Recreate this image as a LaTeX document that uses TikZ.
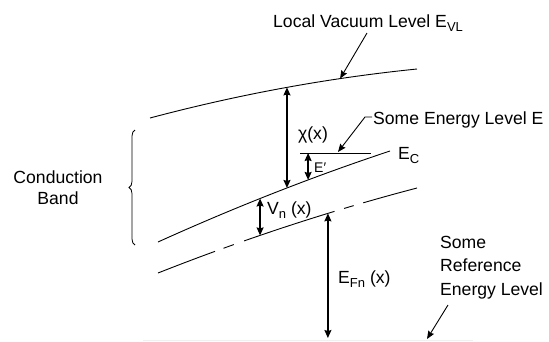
\documentclass[tikz,border=0pt]{standalone}
\usepackage{fontspec}
\setmainfont{Liberation Sans}
\usetikzlibrary{arrows.meta,decorations.pathreplacing}
\tikzset{
  curve/.style={line width=0.9pt},
  dbl/.style={line width=1.3pt,{Stealth[length=8pt,width=7pt,inset=1pt]}-{Stealth[length=8pt,width=7pt,inset=1pt]}},
  lead/.style={line width=0.9pt,-{Stealth[length=8pt,width=6.5pt,inset=1pt]}},
  lbl/.style={inner sep=0pt,font=\fontsize{17.6}{20}\selectfont}
}
\newcommand{\subtxt}[1]{\raisebox{-4pt}{\fontsize{13}{13}\selectfont #1}}
\begin{document}
\begin{tikzpicture}[x=1pt,y=-1pt]
\useasboundingbox (0,0) rectangle (549,341);
% vacuum level
\draw[curve] (150,118) .. controls (239,94.33) and (328,78) .. (417,69)
  coordinate[pos=0.513] (chiTop) coordinate[pos=0.712] (vacTip);
% conduction band edge
\draw[curve] (158,242) .. controls (235.33,207) and (312.67,176.67) .. (390,151)
  coordinate[pos=0.556] (chiBot) coordinate[pos=0.647] (epBot) coordinate[pos=0.44] (vnTop);
% Fermi level (broken)
\draw[curve,dash pattern=on 61pt off 9pt on 11pt off 11pt on 95pt off 10pt on 10pt off 10pt on 100pt]
  (158,273) .. controls (244.33,238.93) and (330.67,210.6) .. (417,188)
  coordinate[pos=0.394] (vnBot) coordinate[pos=0.656] (efTop);
% energy level E
\coordinate (elA) at (300,153);
\coordinate (elB) at (371,153);
\draw[curve] (elA) -- (elB);
\coordinate (epTop) at (epBot |- elA);
% reference level (bottom edge)
\coordinate (refA) at (143,340.5);
\coordinate (refB) at (473,340.5);
\draw[gray!12,line width=0.6pt] (refA) -- (refB);
\coordinate (efBot) at (efTop |- 0,338);
% double arrows
\draw[dbl] (chiTop) -- (chiTop |- chiBot);
\draw[dbl] (epTop) -- (epBot);
\draw[dbl] (vnTop) -- (vnTop |- vnBot);
\draw[dbl] (efTop) -- (efBot);
% brace
\coordinate (brB) at (135,245);
\coordinate (brT) at (135,130);
\draw[line width=0.8pt,decorate,decoration={brace,amplitude=6pt}] (brB) -- (brT);
% labels
\node[lbl,anchor=base west] (vacL) at (273,27) {Local Vacuum Level E\subtxt{VL}};
\node[lbl,anchor=base west] (eL) at (373,124) {Some Energy Level E};
\node[lbl,anchor=center] (chiL) at (313,135) {χ(x)};
\node[lbl,anchor=base west] (ecL) at (398,159.5) {E\subtxt{C}};
\node[inner sep=0pt,font=\fontsize{14}{16}\selectfont,anchor=base west] (epL) at (314,172) {E′};
\node[lbl,anchor=base west] (vnL) at (267,214) {V\subtxt{n} (x)};
\node[lbl,anchor=base west] (efL) at (338,283) {E\subtxt{Fn} (x)};
\node[lbl,align=center] (cbL) at (58,188) {Conduction\\[1pt]Band};
\node[lbl,align=left,anchor=base west] (refL) at (440,295) {Some\\[3.5pt]Reference\\[3.5pt]Energy Level};
% leaders
\coordinate (vacS) at (367,33);
\draw[lead] (vacS) -- (vacTip);
\coordinate (eS) at (372,117);
\coordinate (eK) at (365,117);
\coordinate (eT) at (338,152);
\draw[lead] (eS) -- (eK) -- (eT);
\coordinate (rS) at (448,305);
\coordinate (rT) at (427,339);
\draw[lead] (rS) -- (rT);
\end{tikzpicture}
\end{document}
